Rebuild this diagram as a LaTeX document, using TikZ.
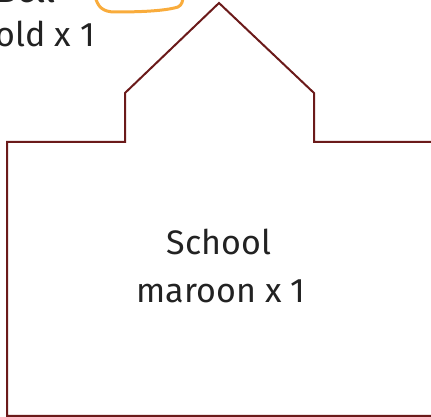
\documentclass[tikz,border=0pt]{standalone}
\usepackage{fontspec}
\setmainfont{Fira Sans}
\definecolor{maroonline}{HTML}{6B1A1A}
\definecolor{bellorange}{HTML}{F9AC3C}
\definecolor{inkc}{HTML}{222222}
\begin{document}
\begin{tikzpicture}[x=1pt,y=1pt,
  outline/.style={draw=maroonline,line width=2pt,line join=miter},
  label/.style={font=\fontsize{34}{48}\selectfont,text=inkc,inner sep=0pt}]
\useasboundingbox (0,0) rectangle (431,417);
\clip (0,0) rectangle (431,417);
% bell fragment
\draw[bellorange,line width=3pt,line cap=round] (95,422) .. controls (97,410) and (103,405) .. (115,405) .. controls (140,405) and (165,406) .. (178,410) .. controls (182,412) and (183,416) .. (183,422);
\node[label,anchor=base] (belltext) at (26,414) {Bell};
\node[label,anchor=base east] (bellsub) at (95,370) {gold x 1};
% school
\draw[outline] (7,1) -- (7,275) -- (125,275) -- (125,324) -- (219,414) -- (314,324) -- (314,275) -- (445,275) -- (445,1) -- cycle;
\node[label,anchor=base] (school) at (219,162) {School};
\node[label,anchor=base] (schoolsub) at (221,114) {maroon x 1};
\end{tikzpicture}
\end{document}
